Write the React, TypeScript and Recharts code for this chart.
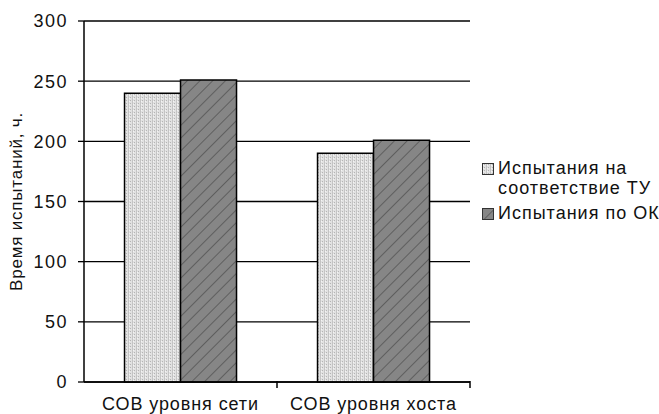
import React from "react";
import { BarChart, Bar, XAxis, YAxis, CartesianGrid, Label } from "recharts";

const categories = ["СОВ уровня сети", "СОВ уровня хоста"];
const specTests = [240, 190];
const okTests = [251, 201];
const yTicks = [0, 50, 100, 150, 200, 250, 300];
const seriesNames = ["Испытания на соответствие ТУ", "Испытания по ОК"];

const data = categories.map((name, i) => ({ name, spec: specTests[i], ok: okTests[i] }));

const FONT = "'Liberation Sans', Arial, sans-serif";

function Patterns() {
  return (
    <svg width={0} height={0} style={{ position: "absolute" }}>
      <defs>
        <pattern id="lightDots" width={4} height={3} patternUnits="userSpaceOnUse">
          <rect width={4} height={3} fill="#e2e2e2" />
          <rect x={0} y={0} width={1} height={3} fill="#c4c4c4" />
          <rect x={2} y={1} width={1} height={1} fill="#b4b4b4" />
          <rect x={1} y={2} width={1} height={1} fill="#f4f4f4" />
        </pattern>
        <pattern id="darkHatch" width={9} height={9} patternUnits="userSpaceOnUse" patternTransform="rotate(45)">
          <rect width={9} height={9} fill="#868686" />
          <line x1={0} y1={0} x2={0} y2={9} stroke="#4e4e4e" strokeWidth={1.4} />
        </pattern>
      </defs>
    </svg>
  );
}

function XTick({ x, y, payload }: any) {
  return (
    <g>
      <line x1={x + 96.5} y1={y - 16} x2={x + 96.5} y2={y - 9} stroke="#000" strokeWidth={1.5} />
      <text x={x} y={y} dy="0.71em" textAnchor="middle" fontSize={18} letterSpacing={0.9}
        fill="#111" fontFamily={FONT}>
        {payload.value}
      </text>
    </g>
  );
}

function LegendBox() {
  const item = (fill: string, lines: string[], key: string) => (
    <div key={key} style={{ display: "flex", alignItems: "flex-start", marginBottom: 5 }}>
      <svg width={12} height={12} style={{ marginTop: 5, marginRight: 4, flex: "none" }}>
        <rect x={0.5} y={0.5} width={11} height={11} fill={fill} stroke="#333" strokeWidth={1} />
      </svg>
      <div style={{ lineHeight: "20px" }}>
        {lines.map((l) => <div key={l}>{l}</div>)}
      </div>
    </div>
  );
  return (
    <div style={{ position: "absolute", left: 482, top: 158, fontFamily: FONT, fontSize: 18,
      letterSpacing: 1, color: "#111", whiteSpace: "nowrap" }}>
      {item("url(#lightDots)", ["Испытания на", "соответствие ТУ"], "a")}
      {item("url(#darkHatch)", [seriesNames[1]], "b")}
    </div>
  );
}

export default function App() {
  return (
    <div style={{ position: "absolute", left: 0, top: 0, width: 659, height: 414, background: "#fff" }}>
      <Patterns />
      <BarChart width={659} height={414} data={data} margin={{ top: 21, right: 189, bottom: 0, left: 0 }}
        barCategoryGap="21%" barGap={0}>
        <CartesianGrid vertical={false} stroke="#000" strokeWidth={1.3} />
        <XAxis dataKey="name" tick={<XTick />} tickLine={false} tickSize={0} tickMargin={15}
          axisLine={{ stroke: "#000", strokeWidth: 1.5 }} interval={0} height={32} />
        <YAxis domain={[0, 300]} ticks={yTicks} width={84} tickSize={6} tickMargin={10}
          axisLine={{ stroke: "#000", strokeWidth: 1.5 }} tickLine={{ stroke: "#000", strokeWidth: 1.3 }}
          tick={{ fontSize: 18, fill: "#111", fontFamily: FONT, letterSpacing: 1.5 }}>
          <Label value="Время испытаний, ч." angle={-90} position="insideLeft" offset={16}
            style={{ fontSize: 17, fill: "#111", fontFamily: FONT, textAnchor: "middle", letterSpacing: 0.8 }} />
        </YAxis>
        <Bar dataKey="spec" name={seriesNames[0]} fill="url(#lightDots)" stroke="#000" strokeWidth={1.5} isAnimationActive={false} />
        <Bar dataKey="ok" name={seriesNames[1]} fill="url(#darkHatch)" stroke="#000" strokeWidth={1.5} isAnimationActive={false} />
      </BarChart>
      <LegendBox />
    </div>
  );
}
